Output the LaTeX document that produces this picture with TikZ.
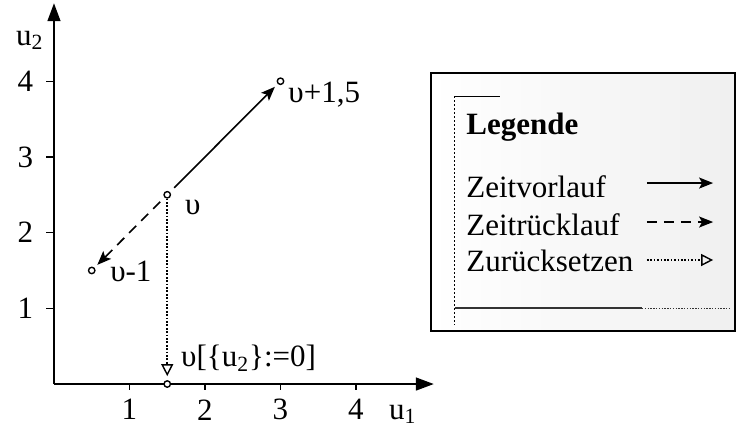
\documentclass[tikz,border=0pt]{standalone}
\usepackage{fontspec}
\setmainfont{Liberation Serif}
\usetikzlibrary{arrows.meta, positioning}

\begin{document}
\begin{tikzpicture}[x=37.75pt, y=37.85pt, >=Stealth,
    every node/.style={font=\fontsize{15.5}{18}\selectfont},
    pt/.style={circle, draw, fill=white, inner sep=0pt, minimum size=3.2pt, line width=0.7pt},
    lbl/.style={anchor=west, inner sep=0pt},
    vor/.style={line width=0.8pt, -{Stealth[length=7pt,width=5.5pt,inset=1.5pt]}},
    rueck/.style={vor, dash pattern=on 5pt off 3.5pt},
    reset/.style={line width=0.85pt, dash pattern=on 0.85pt off 0.85pt, -{Triangle[open,length=6pt,width=6pt,line width=0.7pt]}}]

\useasboundingbox (-0.715,-0.581) rectangle (9.086,5.073);

% Axes
\coordinate (o) at (0,0);
\coordinate (xend) at (5.03,0);
\coordinate (yend) at (0,5.03);
\draw[line width=0.8pt, -{Triangle[length=9pt,width=6.5pt]}] (o) -- (xend);
\draw[line width=0.8pt, -{Triangle[length=9pt,width=6.5pt]}] (o) -- (yend);
\foreach \i in {1,...,4} {
  \draw[line width=0.6pt] (\i,0) -- (\i,-0.08);
  \draw[line width=0.6pt] (0,\i) -- (-0.1,\i);
  \node (xl\i) at (\i,-0.34) {\i};
  \node (yl\i) at (-0.38,\i) {\i};
}
\node (u1) at (4.62,-0.40) {u\textsubscript{1}};
\node (u2) at (-0.32,4.54) {u\textsubscript{2}};

% States
\node[pt] (v) at (1.5,2.5) {};
\node[pt] (vm) at (0.5,1.5) {};
\node[pt] (vp) at (3,4) {};
\node[pt] (v0) at (1.5,0) {};

\node[lbl] (lv) at (1.73,2.34) {υ};
\node[lbl] (lvm) at (0.74,1.49) {υ-1};
\node[lbl] (lvp) at (3.10,3.82) {υ+1,5};
\node[lbl] (lv0) at (1.68,0.34) {υ[\{u\textsubscript{2}\}:=0]};

% Transitions
\draw[vor, shorten <=3pt, shorten >=2pt] (v) -- (vp);
\draw[rueck, shorten <=3pt, shorten >=2pt] (v) -- (vm);
\draw[reset, shorten >=2pt] (v) -- (v0);

% Legend
\shade[left color=white, right color=black!6, draw=black, line width=0.8pt] (4.99,0.70) rectangle (9.02,4.108);
\draw[line width=0.5pt, dash pattern=on 1pt off 1pt] (5.311,3.804) -- (5.311,0.779);
\draw[line width=0.5pt] (5.311,3.804) -- (5.907,3.804);
\draw[line width=0.6pt, black!80] (5.311,1.004) -- (7.788,1.004);
\draw[line width=0.5pt, dash pattern=on 0.7pt off 0.7pt, black!80] (7.788,1.004) -- (8.967,1.004);

\node[lbl, font=\fontsize{15.5}{18}\selectfont\bfseries] (leg) at (5.457,3.395) {Legende};
\node[lbl] (t1) at (5.457,2.60) {Zeitvorlauf};
\node[lbl] (t2) at (5.457,2.11) {Zeitrücklauf};
\node[lbl] (t3) at (5.457,1.62) {Zurücksetzen};

\coordinate (a1) at (7.854,2.655);
\coordinate (b1) at (8.73,2.655);
\coordinate (a2) at (7.854,2.14);
\coordinate (b2) at (8.73,2.14);
\coordinate (a3) at (7.854,1.638);
\coordinate (b3) at (8.73,1.638);
\draw[vor] (a1) -- (b1);
\draw[rueck] (a2) -- (b2);
\draw[reset] (a3) -- (b3);

\end{tikzpicture}
\end{document}
